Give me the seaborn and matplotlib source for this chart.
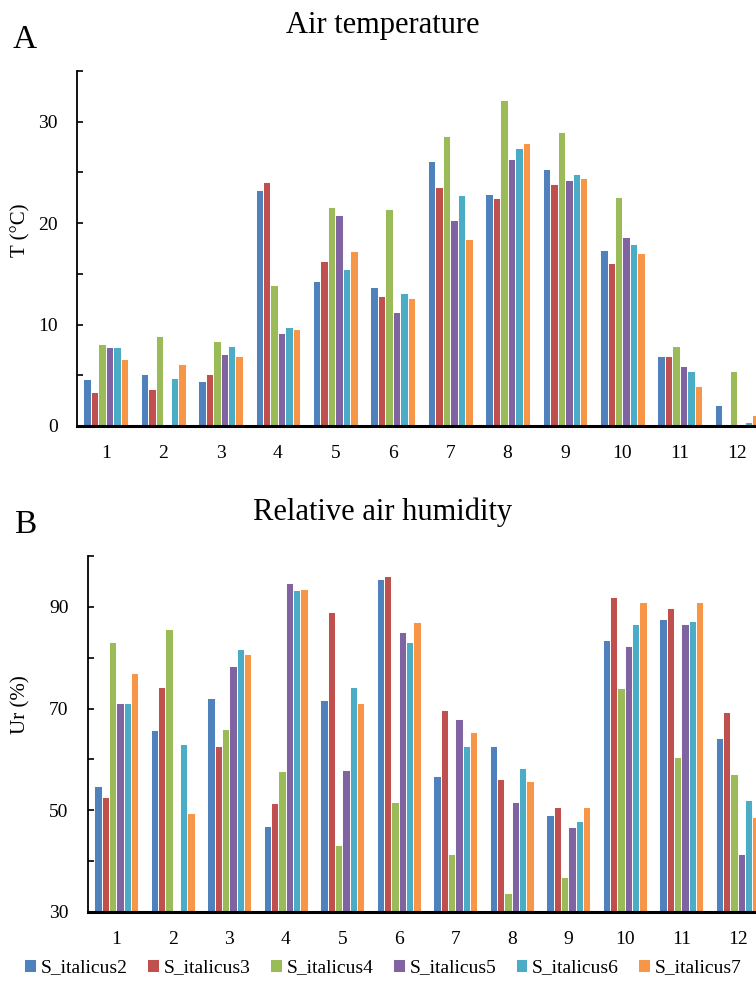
import numpy as np
import pandas as pd
import matplotlib
matplotlib.use("Agg")
import matplotlib.pyplot as plt
import seaborn as sns

months = ["1", "2", "3", "4", "5", "6", "7", "8", "9", "10", "11", "12"]
series = ["S_italicus2", "S_italicus3", "S_italicus4", "S_italicus5", "S_italicus6", "S_italicus7"]
colors = ["#4F81BD", "#C0504D", "#9BBB59", "#8064A2", "#4BACC6", "#F79646"]

# Air temperature (°C), per series, months 1..12
temp_s2 = [4.6, 5.1, 4.4, 23.3, 14.3, 13.7, 26.1, 22.9, 25.3, 17.4, 6.9, 2.1]
temp_s3 = [3.4, 3.6, 5.1, 24.1, 16.3, 12.8, 23.6, 22.5, 23.9, 16.1, 6.9, 0.0]
temp_s4 = [8.1, 8.9, 8.4, 13.9, 21.6, 21.4, 28.6, 32.1, 29.0, 22.6, 7.9, 5.4]
temp_s5 = [7.8, 0.0, 7.1, 9.2, 20.8, 11.2, 20.3, 26.3, 24.3, 18.6, 5.9, 0.0]
temp_s6 = [7.8, 4.7, 7.9, 9.8, 15.5, 13.1, 22.8, 27.4, 24.8, 17.9, 5.4, 0.4]
temp_s7 = [6.6, 6.1, 6.9, 9.6, 17.3, 12.6, 18.4, 27.9, 24.5, 17.1, 3.9, 1.1]

# Relative air humidity (%)
hum_s2 = [54.7, 65.7, 72.0, 47.0, 71.6, 95.4, 56.7, 62.7, 49.1, 83.4, 87.6, 64.3]
hum_s3 = [52.7, 74.3, 62.7, 51.4, 89.0, 96.0, 69.7, 56.1, 50.7, 92.0, 89.7, 69.4]
hum_s4 = [83.0, 85.7, 66.0, 57.8, 43.1, 51.7, 41.5, 33.8, 36.8, 74.0, 60.4, 57.1]
hum_s5 = [71.0, 0.0, 78.3, 94.6, 58.0, 85.0, 68.0, 51.7, 46.8, 82.3, 86.7, 41.5]
hum_s6 = [71.0, 63.0, 81.7, 93.3, 74.3, 83.0, 62.7, 58.4, 47.8, 86.7, 87.3, 52.1]
hum_s7 = [77.0, 49.4, 80.7, 93.6, 71.0, 87.0, 65.4, 55.7, 50.7, 91.0, 91.0, 48.7]

temp_vals = [temp_s2, temp_s3, temp_s4, temp_s5, temp_s6, temp_s7]
hum_vals = [hum_s2, hum_s3, hum_s4, hum_s5, hum_s6, hum_s7]


def long_df(vals):
    rows = []
    for s, v in zip(series, vals):
        for m, x in zip(months, v):
            rows.append({"month": m, "site": s, "value": x})
    return pd.DataFrame(rows)


sns.set_theme(style="white")
plt.rcParams["font.family"] = ["Liberation Serif", "DejaVu Serif"]
plt.rcParams["text.color"] = "black"
plt.rcParams["axes.labelcolor"] = "black"
plt.rcParams["xtick.color"] = "black"
plt.rcParams["ytick.color"] = "black"

W, H = 756, 994
fig = plt.figure(figsize=(W / 100, H / 100), dpi=100)


def px_axes(left, right, top, bottom):
    return fig.add_axes([left / W, 1 - bottom / H, (right - left) / W, (bottom - top) / H])


axA = px_axes(77, 766, 71, 426)
axB = px_axes(88, 766, 556, 912)

for ax, vals, ylim, yt in [
    (axA, temp_vals, (0, 35), [0, 10, 20, 30]),
    (axB, hum_vals, (30, 100), [30, 50, 70, 90]),
]:
    df = long_df(vals)
    sns.barplot(data=df, x="month", y="value", hue="site", order=months,
                hue_order=series, palette=colors, saturation=1, width=0.78,
                edgecolor="white", linewidth=0.7, errorbar=None,
                legend=True, ax=ax)
    ax.set_xlim(-0.5, 11.5)
    ax.set_ylim(*ylim)
    ax.set_yticks(np.arange(ylim[0], ylim[1] + 0.1, 5 if ylim[0] == 0 else 10))
    labels = [str(int(t)) if int(t) in yt else "" for t in ax.get_yticks()]
    ax.set_yticklabels(labels)
    ax.tick_params(axis="y", direction="in", length=4, width=1.2, labelsize=14,
                   pad=14, left=True, colors="black")
    ax.tick_params(axis="x", length=0, labelsize=14, pad=14, colors="black")
    ax.set_xlabel("")
    ax.set_ylabel("")
    for sp in ["top", "right"]:
        ax.spines[sp].set_visible(False)
    ax.spines["left"].set_color("black")
    ax.spines["left"].set_linewidth(1.3)
    ax.spines["bottom"].set_color("black")
    ax.spines["bottom"].set_linewidth(2.2)
    ax.set_facecolor("white")
    handles, lbls = ax.get_legend_handles_labels()
    ax.get_legend().remove()

fig.text(21 / W, 1 - 230 / H, "T (°C)", fontsize=15, ha="center", va="center", rotation=90)
fig.text(21 / W, 1 - 705 / H, "Ur (%)", fontsize=15, ha="center", va="center", rotation=90)

fig.text(383 / W, 1 - 25 / H, "Air temperature", fontsize=22, ha="center", va="center")
fig.text(383 / W, 1 - 512 / H, "Relative air humidity", fontsize=22, ha="center", va="center")
fig.text(25 / W, 1 - 40 / H, "A", fontsize=24, ha="center", va="center")
fig.text(25 / W, 1 - 525 / H, "B", fontsize=24, ha="center", va="center")

fig.legend(handles, lbls, loc="center", bbox_to_anchor=(383 / W, 1 - 968 / H),
           ncol=6, frameon=False, fontsize=14, handlelength=0.6, handleheight=0.6,
           handletextpad=0.25, columnspacing=1.0)

fig.savefig("out.png", dpi=100, facecolor="white")
